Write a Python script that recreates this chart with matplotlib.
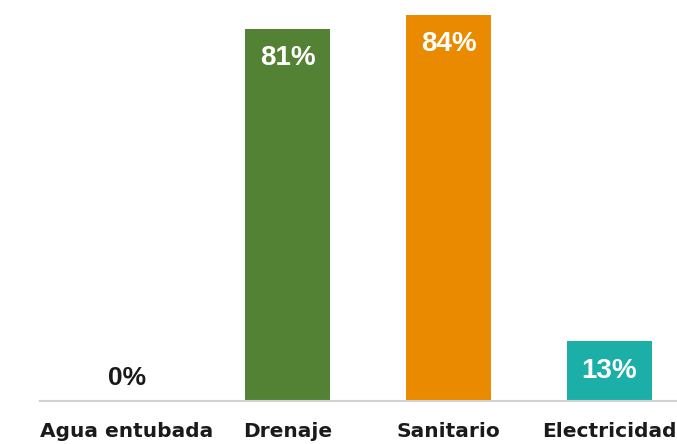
import matplotlib.pyplot as plt

categories = ['Agua entubada', 'Drenaje', 'Sanitario', 'Electricidad']
values = [0, 81, 84, 13]
colors = ['#FFFFFF', '#548235', '#EA8A00', '#1BAFA7']

plt.rcParams['font.family'] = ['Liberation Sans', 'DejaVu Sans']

fig = plt.figure(figsize=(6.77, 4.44), dpi=100)
ax = fig.add_axes([40 / 677, 43 / 444, 1 - 40 / 677, 401 / 444])

x = list(range(len(categories)))
ax.bar(x, values, width=0.53, color=colors)

for xi, v in zip(x, values):
    if v > 5:
        ax.annotate(f'{v}%', (xi, v), xytext=(0, -12), textcoords='offset points',
                    ha='center', va='top', color='white', fontsize=20, fontweight='bold')
    else:
        ax.annotate(f'{v}%', (xi, v), xytext=(0, 8), textcoords='offset points',
                    ha='center', va='bottom', color='#1a1a1a', fontsize=19, fontweight='bold')

ax.set_xlim(-0.54, 3.42)
ax.set_ylim(0, 87.2)
ax.set_xticks(x)
ax.set_xticklabels(categories, fontsize=14.5, fontweight='bold', color='#1a1a1a',
                   family='DejaVu Sans')
ax.tick_params(axis='x', length=0, pad=15)
ax.set_yticks([])
for s in ['top', 'right', 'left']:
    ax.spines[s].set_visible(False)
ax.spines['bottom'].set_color('#D0D0D0')
ax.spines['bottom'].set_linewidth(1.5)

fig.savefig('out.png', dpi=100)
